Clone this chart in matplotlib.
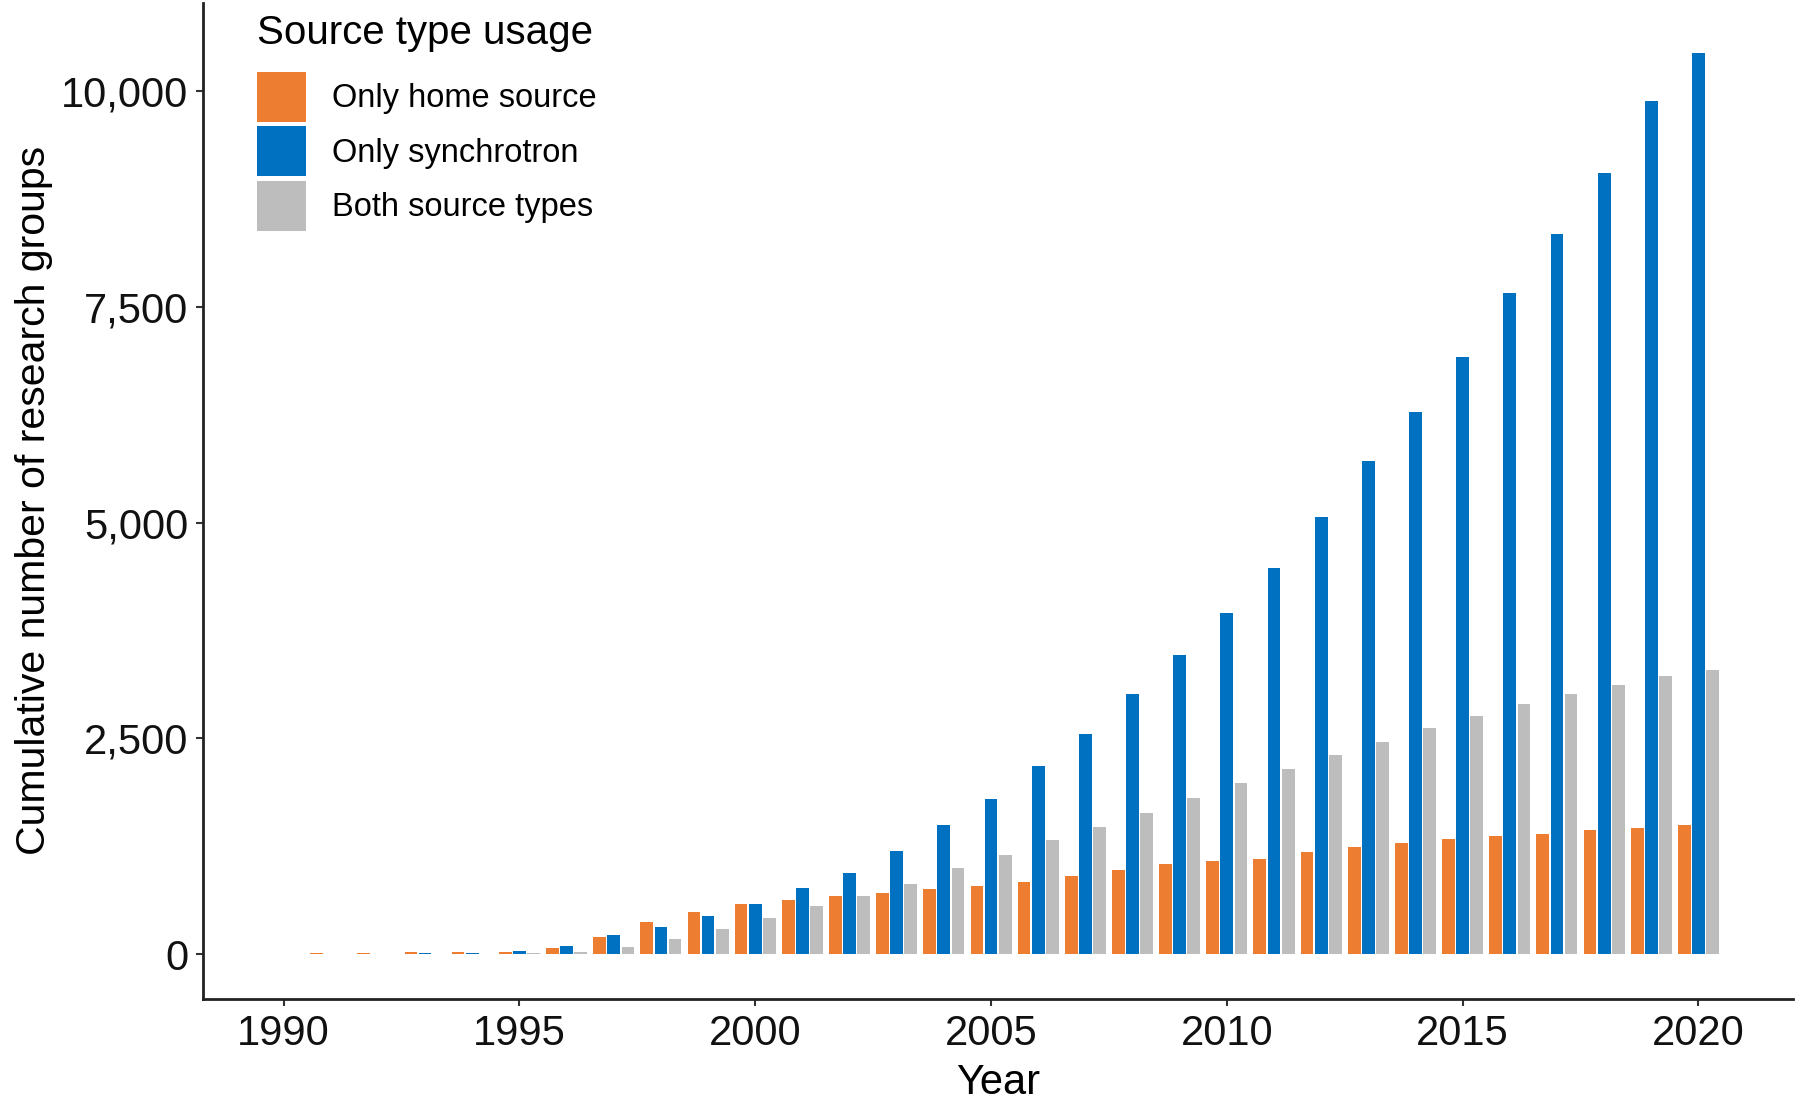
import numpy as np
import matplotlib.pyplot as plt
from matplotlib.ticker import FuncFormatter

plt.rcParams['font.family'] = ['Liberation Sans', 'DejaVu Sans']

years = list(range(1990, 2021))

# cumulative counts
home_only = [5, 10, 10, 20, 27, 27, 67, 197, 375, 485, 578, 630, 669, 712, 750,
             795, 833, 907, 972, 1039, 1078, 1105, 1185, 1238, 1292, 1332, 1371,
             1398, 1438, 1465, 1491]
synchrotron_only = [3, 4, 5, 8, 10, 40, 93, 218, 309, 437, 586, 770, 945, 1200,
                    1495, 1795, 2180, 2550, 3009, 3462, 3955, 4474, 5060, 5712,
                    6285, 6924, 7656, 8349, 9055, 9880, 10440]
both_types = [0, 1, 2, 3, 4, 8, 27, 87, 174, 288, 416, 556, 672, 814, 995,
              1150, 1320, 1478, 1638, 1811, 1984, 2144, 2304, 2463, 2623, 2756,
              2903, 3009, 3116, 3222, 3294]

series_names = ['Only home source', 'Only synchrotron', 'Both source types']
colors = ['#ED7D31', '#0070C0', '#BDBDBD']

fig = plt.figure(figsize=(18, 11.01), dpi=100)
ax = fig.add_axes([0.113, 0.0926, 0.883, 0.905])

x = np.array(years)
w = 0.27
for k, (vals, name, c) in enumerate(zip([home_only, synchrotron_only, both_types], series_names, colors)):
    ax.bar(x + (k - 1) * 0.3, vals, width=w, color=c, label=name, linewidth=0)

ax.set_xlim(1988.3, 2022.0)
ax.set_ylim(-520, 11025)
ax.set_xticks(range(1990, 2021, 5))
ax.set_yticks([0, 2500, 5000, 7500, 10000])
ax.yaxis.set_major_formatter(FuncFormatter(lambda v, p: f'{int(v):,}'))

for s in ['top', 'right']:
    ax.spines[s].set_visible(False)
for s in ['left', 'bottom']:
    ax.spines[s].set_linewidth(2)
    ax.spines[s].set_color('#222222')
ax.tick_params(axis='both', labelsize=30, length=5, width=1.5, color='#333333',
               labelcolor='#111111', pad=6)

ax.set_xlabel('Year', fontsize=30, labelpad=6)
ax.set_ylabel('Cumulative number of research groups', fontsize=29.5, labelpad=6)

leg = ax.legend(loc='upper left', bbox_to_anchor=(0.143, 0.987), bbox_transform=fig.transFigure,
                frameon=False, fontsize=23.5, title='Source type usage', title_fontsize=29,
                handlelength=1.5, handleheight=1.98, labelspacing=0.136, handletextpad=0.79,
                alignment='left', borderaxespad=0, borderpad=0)
leg._legend_box.sep = 14

fig.savefig('out.png', dpi=100)
